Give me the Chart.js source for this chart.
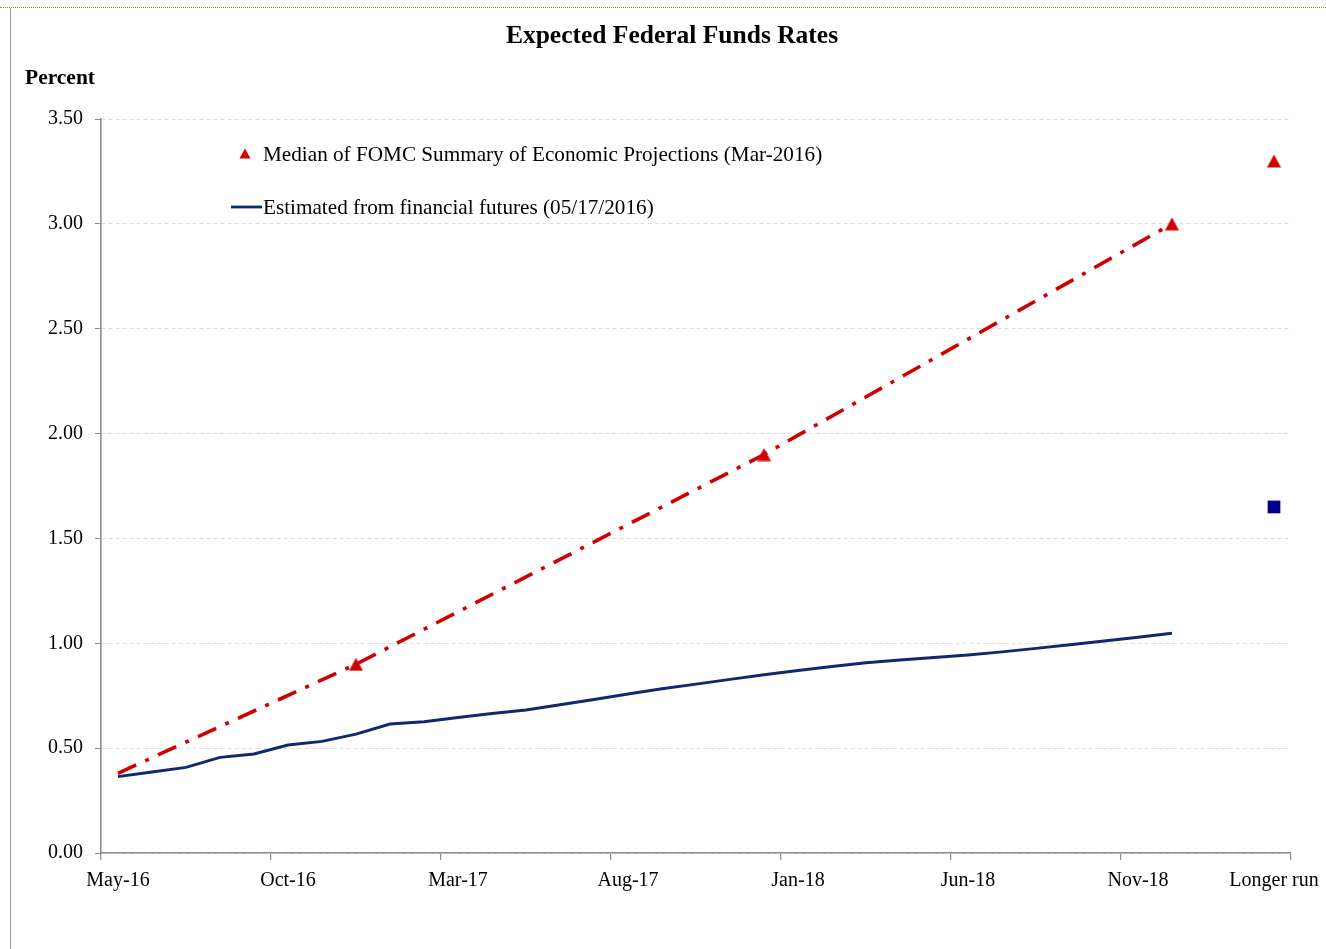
<!DOCTYPE html>
<html>
<head>
<meta charset="utf-8">
<script src="https://cdn.jsdelivr.net/npm/chart.js@4/dist/chart.umd.min.js"></script>
<style>
  html, body { margin: 0; padding: 0; background: #fff; }
  #wrap { position: relative; width: 1326px; height: 949px; overflow: hidden; }
  #topline { position: absolute; left: 0; top: 7px; width: 1326px; height: 0; border-top: 1px dotted #a8823c; }
  #leftline { position: absolute; left: 10px; top: 8px; width: 0; height: 941px; border-left: 1px solid #9a9a9a; }
  canvas { position: absolute; left: 0; top: 0; }
</style>
</head>
<body>
<div id="wrap">
  <canvas id="c" width="1326" height="949"></canvas>
  <div id="topline"></div>
  <div id="leftline"></div>
</div>
<script>
// ---- Data ----
const months = [
  'May-16','Jun-16','Jul-16','Aug-16','Sep-16','Oct-16','Nov-16','Dec-16',
  'Jan-17','Feb-17','Mar-17','Apr-17','May-17','Jun-17','Jul-17','Aug-17','Sep-17','Oct-17','Nov-17','Dec-17',
  'Jan-18','Feb-18','Mar-18','Apr-18','May-18','Jun-18','Jul-18','Aug-18','Sep-18','Oct-18','Nov-18','Dec-18',
  'Jan-19','Feb-19','Longer run'
];
const shownLabels = ['May-16','Oct-16','Mar-17','Aug-17','Jan-18','Jun-18','Nov-18','Longer run'];

// Estimated from financial futures (05/17/2016), monthly
const futures = [
  0.364, 0.386, 0.408, 0.456, 0.472, 0.515, 0.532, 0.567,
  0.615, 0.626, 0.646, 0.665, 0.682, 0.707, 0.732, 0.758, 0.783, 0.805, 0.828, 0.850,
  0.870, 0.889, 0.907, 0.920, 0.932, 0.944, 0.959, 0.976, 0.993, 1.011, 1.029, 1.048,
  null, null, null
];
// Longer-run marker (blue square)
const futuresLongerRun = [
  null, null, null, null, null, null, null, null,
  null, null, null, null, null, null, null, null, null, null, null, null,
  null, null, null, null, null, null, null, null, null, null, null, null,
  null, null, 1.65
];
// Median of FOMC SEP (Mar-2016) path (dash-dot line)
const sepPath = [
  0.38, null, null, null, null, null, null, 0.90,
  null, null, null, null, null, null, null, null, null, null, null, 1.90,
  null, null, null, null, null, null, null, null, null, null, null, 3.00,
  null, null, null
];
// Median of FOMC SEP (Mar-2016) markers (triangles)
const sepMedian = [
  null, null, null, null, null, null, null, 0.90,
  null, null, null, null, null, null, null, null, null, null, null, 1.90,
  null, null, null, null, null, null, null, null, null, null, null, 3.00,
  null, null, 3.30
];
const yTicks = [0, 0.5, 1.0, 1.5, 2.0, 2.5, 3.0, 3.5];

const titleText = 'Expected Federal Funds Rates';
const yUnitText = 'Percent';
const legendSep = 'Median of FOMC Summary of Economic Projections (Mar-2016)';
const legendFut = 'Estimated from financial futures (05/17/2016)';

// ---- Styles ----
const SERIF = '"Liberation Serif", "Times New Roman", serif';
const RED = '#d00000';
const NAVY = '#0f2a6c';
const SQUARE = '#00008b';
const AXIS = '#8c8c8c';

// triangle marker image, centred on its bounding box
const tri = document.createElement('canvas');
tri.width = 15; tri.height = 14;
(function () {
  const t = tri.getContext('2d');
  t.fillStyle = RED;
  t.beginPath();
  t.moveTo(7.5, 0.5);
  t.lineTo(14.5, 13.5);
  t.lineTo(0.5, 13.5);
  t.closePath();
  t.fill();
})();

const overlay = {
  id: 'overlay',
  afterDraw(chart) {
    const ctx = chart.ctx;
    ctx.save();
    ctx.fillStyle = '#000';
    ctx.textBaseline = 'middle';
    ctx.textAlign = 'center';
    ctx.font = 'bold 25.5px ' + SERIF;
    ctx.fillText(titleText, 672, 36);
    ctx.textAlign = 'left';
    ctx.font = 'bold 21.5px ' + SERIF;
    ctx.fillText(yUnitText, 25, 78);

    // legend
    ctx.font = '21.2px ' + SERIF;
    ctx.fillStyle = RED;
    ctx.beginPath();
    ctx.moveTo(245, 148.5);
    ctx.lineTo(250.5, 158.5);
    ctx.lineTo(239.5, 158.5);
    ctx.closePath();
    ctx.fill();
    ctx.fillStyle = '#000';
    ctx.fillText(legendSep, 263, 155);

    ctx.strokeStyle = NAVY;
    ctx.lineWidth = 2.8;
    ctx.beginPath();
    ctx.moveTo(231, 207);
    ctx.lineTo(262, 207);
    ctx.stroke();
    ctx.fillText(legendFut, 263, 208);
    ctx.restore();
  }
};

new Chart(document.getElementById('c'), {
  type: 'line',
  data: {
    labels: months,
    datasets: [
      {
        label: 'futures',
        data: futures,
        borderColor: NAVY,
        borderWidth: 2.9,
        pointRadius: 0,
        tension: 0,
        order: 3
      },
      {
        label: 'sepPath',
        data: sepPath,
        borderColor: RED,
        borderWidth: 3.6,
        borderDash: [20, 10, 4, 10],
        borderCapStyle: 'butt',
        spanGaps: true,
        pointRadius: 0,
        tension: 0,
        order: 2
      },
      {
        label: 'sepMedian',
        data: sepMedian,
        showLine: false,
        pointStyle: tri,
        pointRadius: 8,
        pointBackgroundColor: RED,
        pointBorderColor: RED,
        pointBorderWidth: 0,
        order: 1
      },
      {
        label: 'futuresLongerRun',
        data: futuresLongerRun,
        showLine: false,
        pointStyle: 'rect',
        pointRadius: 9,
        pointBackgroundColor: SQUARE,
        pointBorderColor: SQUARE,
        pointBorderWidth: 0,
        order: 1
      }
    ]
  },
  options: {
    responsive: false,
    animation: false,
    devicePixelRatio: 1,
    layout: { padding: { top: 119, left: 0, right: 35, bottom: 0 } },
    plugins: { legend: { display: false }, tooltip: { enabled: false }, title: { display: false } },
    scales: {
      x: {
        type: 'category',
        offset: true,
        grid: {
          offset: true,
          drawOnChartArea: false,
          tickLength: 7,
          lineWidth: 1.2,
          color: (c) => (c.index === undefined || c.index % 5 === 0) ? AXIS : 'rgba(0,0,0,0)'
        },
        border: { display: true, color: AXIS, width: 1.6 },
        ticks: {
          autoSkip: false,
          maxRotation: 0,
          minRotation: 0,
          padding: 9,
          color: '#000',
          font: { family: SERIF, size: 20 },
          callback: function (v, i) {
            const lab = this.getLabelForValue(v);
            return shownLabels.includes(lab) ? lab : '';
          }
        },
        afterFit: (s) => { s.height = 96; s.paddingLeft = 0; s.paddingRight = 0; }
      },
      y: {
        min: 0,
        max: 3.5,
        afterBuildTicks: (s) => { s.ticks = yTicks.map(v => ({ value: v })); },
        grid: {
          color: '#dcdcdc',
          lineWidth: 1,
          tickLength: 6,
          tickColor: AXIS,
          tickBorderDash: [],
          drawOnChartArea: true
        },
        border: { display: true, color: AXIS, width: 1.6, dash: [4, 3] },
        ticks: {
          padding: 12,
          color: '#000',
          font: { family: SERIF, size: 20 },
          callback: (v) => Number(v).toFixed(2)
        },
        afterFit: (s) => { s.width = 101; }
      }
    }
  },
  plugins: [overlay]
});
</script>
</body>
</html>
